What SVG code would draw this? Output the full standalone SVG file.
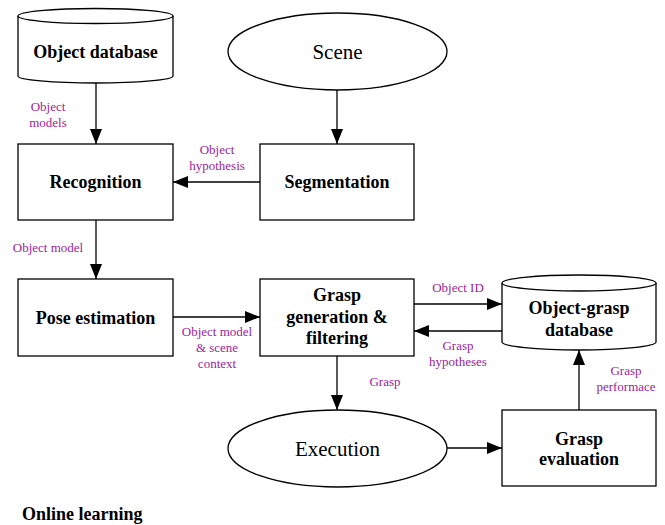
<svg xmlns="http://www.w3.org/2000/svg" width="665" height="525" viewBox="0 0 665 525">
<defs>
<marker id="ah" markerWidth="15" markerHeight="12" refX="15" refY="6" orient="auto" markerUnits="userSpaceOnUse">
<path d="M0,0 L15,6 L0,12 Z" fill="#000"/>
</marker>
</defs>
<rect width="665" height="525" fill="#fff"/>
<g id="connectors" fill="none" stroke="#000" stroke-width="1.3">
<line x1="96" y1="82" x2="96" y2="144" marker-end="url(#ah)"/>
<line x1="337" y1="90" x2="337" y2="144" marker-end="url(#ah)"/>
<line x1="260" y1="182" x2="173" y2="182" marker-end="url(#ah)"/>
<line x1="96" y1="220" x2="96" y2="279" marker-end="url(#ah)"/>
<line x1="173" y1="317" x2="260" y2="317" marker-end="url(#ah)"/>
<line x1="414" y1="304" x2="502" y2="304" marker-end="url(#ah)"/>
<line x1="502" y1="331" x2="414" y2="331" marker-end="url(#ah)"/>
<line x1="337" y1="356" x2="337" y2="410" marker-end="url(#ah)"/>
<line x1="447" y1="448" x2="502" y2="448" marker-end="url(#ah)"/>
<line x1="579" y1="410" x2="579" y2="350" marker-end="url(#ah)"/>
</g>
<g id="labels">
<text font-family="Liberation Serif, serif" font-size="13" text-anchor="middle" fill="#9b239b" x="48" y="111">Object</text>
<text font-family="Liberation Serif, serif" font-size="13" text-anchor="middle" fill="#9b239b" x="48" y="127">models</text>
<text font-family="Liberation Serif, serif" font-size="13" text-anchor="middle" fill="#9b239b" x="217" y="154">Object</text>
<text font-family="Liberation Serif, serif" font-size="13" text-anchor="middle" fill="#9b239b" x="217" y="170">hypothesis</text>
<text font-family="Liberation Serif, serif" font-size="13" text-anchor="middle" fill="#9b239b" x="48" y="252">Object model</text>
<text font-family="Liberation Serif, serif" font-size="13" text-anchor="middle" fill="#9b239b" x="217" y="336">Object model</text>
<text font-family="Liberation Serif, serif" font-size="13" text-anchor="middle" fill="#9b239b" x="217" y="352">&amp; scene</text>
<text font-family="Liberation Serif, serif" font-size="13" text-anchor="middle" fill="#9b239b" x="217" y="368">context</text>
<text font-family="Liberation Serif, serif" font-size="13" text-anchor="middle" fill="#9b239b" x="458" y="292">Object ID</text>
<text font-family="Liberation Serif, serif" font-size="13" text-anchor="middle" fill="#9b239b" x="458" y="350">Grasp</text>
<text font-family="Liberation Serif, serif" font-size="13" text-anchor="middle" fill="#9b239b" x="458" y="366">hypotheses</text>
<text font-family="Liberation Serif, serif" font-size="13" text-anchor="middle" fill="#9b239b" x="385" y="386">Grasp</text>
<text font-family="Liberation Serif, serif" font-size="13" text-anchor="middle" fill="#9b239b" x="626" y="375">Grasp</text>
<text font-family="Liberation Serif, serif" font-size="13" text-anchor="middle" fill="#9b239b" x="626" y="391">performace</text>
</g>
<g id="object-database">
<path fill="#fff" stroke="#000" stroke-width="1.3" d="M18,16 L18,76 A77.5,7 0 0 0 173,76 L173,16"/>
<ellipse fill="#fff" stroke="#000" stroke-width="1.3" cx="95.5" cy="16" rx="77.5" ry="7.5"/>
<text font-family="Liberation Serif, serif" font-weight="bold" font-size="18" text-anchor="middle" x="95.5" y="58">Object database</text>
</g>
<g id="scene">
<ellipse fill="#fff" stroke="#000" stroke-width="1.3" cx="337.5" cy="51.5" rx="109.5" ry="38.5"/>
<text font-family="Liberation Serif, serif" font-size="21" text-anchor="middle" x="337.5" y="58.5">Scene</text>
</g>
<g id="recognition">
<rect fill="#fff" stroke="#000" stroke-width="1.3" x="18" y="144" width="155" height="76"/>
<text font-family="Liberation Serif, serif" font-weight="bold" font-size="18" text-anchor="middle" x="95.5" y="188">Recognition</text>
</g>
<g id="segmentation">
<rect fill="#fff" stroke="#000" stroke-width="1.3" x="260" y="144" width="154" height="76"/>
<text font-family="Liberation Serif, serif" font-weight="bold" font-size="18" text-anchor="middle" x="337" y="188">Segmentation</text>
</g>
<g id="pose-estimation">
<rect fill="#fff" stroke="#000" stroke-width="1.3" x="18" y="279" width="155" height="77"/>
<text font-family="Liberation Serif, serif" font-weight="bold" font-size="18" text-anchor="middle" x="95.5" y="324">Pose estimation</text>
</g>
<g id="grasp-generation">
<rect fill="#fff" stroke="#000" stroke-width="1.3" x="260" y="279" width="154" height="77"/>
<text font-family="Liberation Serif, serif" font-weight="bold" font-size="18" text-anchor="middle" x="337" y="301">Grasp</text>
<text font-family="Liberation Serif, serif" font-weight="bold" font-size="18" text-anchor="middle" x="337" y="323">generation &amp;</text>
<text font-family="Liberation Serif, serif" font-weight="bold" font-size="18" text-anchor="middle" x="337" y="344">filtering</text>
</g>
<g id="object-grasp-database">
<path fill="#fff" stroke="#000" stroke-width="1.3" d="M502,283 L502,342 A77,8 0 0 0 656,342 L656,283"/>
<ellipse fill="#fff" stroke="#000" stroke-width="1.3" cx="579" cy="283" rx="77" ry="8"/>
<text font-family="Liberation Serif, serif" font-weight="bold" font-size="18" text-anchor="middle" x="579" y="314">Object-grasp</text>
<text font-family="Liberation Serif, serif" font-weight="bold" font-size="18" text-anchor="middle" x="579" y="336">database</text>
</g>
<g id="execution">
<ellipse fill="#fff" stroke="#000" stroke-width="1.3" cx="337.5" cy="448.5" rx="109.5" ry="38.5"/>
<text font-family="Liberation Serif, serif" font-size="21" text-anchor="middle" x="337.5" y="455.5">Execution</text>
</g>
<g id="grasp-evaluation">
<rect fill="#fff" stroke="#000" stroke-width="1.3" x="502" y="410" width="154" height="76"/>
<text font-family="Liberation Serif, serif" font-weight="bold" font-size="18" text-anchor="middle" x="579" y="445">Grasp</text>
<text font-family="Liberation Serif, serif" font-weight="bold" font-size="18" text-anchor="middle" x="579" y="465">evaluation</text>
</g>
<text font-family="Liberation Serif, serif" font-weight="bold" font-size="18" x="22" y="520">Online learning</text>
</svg>
